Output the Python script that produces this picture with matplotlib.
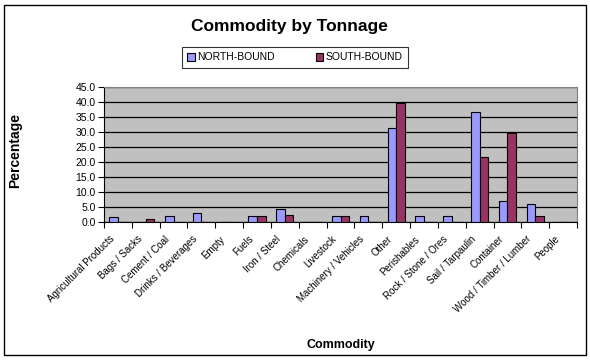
import numpy as np
import matplotlib
matplotlib.use("Agg")
import matplotlib.pyplot as plt
from matplotlib.patches import Rectangle
from matplotlib.transforms import ScaledTranslation

plt.rcParams["font.family"] = ["Liberation Sans", "DejaVu Sans"]

# ── Data ──────────────────────────────────────────────────────────────────────
commodities = [
    "Agricultural Products", "Bags / Sacks", "Cement / Coal", "Drinks / Beverages",
    "Empty", "Fuels", "Iron / Steel", "Chemicals", "Livestock",
    "Machinery / Vehicles", "Other", "Perishables", "Rock / Stone / Ores",
    "Sail / Tarpaulin", "Container", "Wood / Timber / Lumber", "People",
]
north_bound = [1.5, 0.0, 1.7, 2.8, 0.0, 1.7, 4.1, 0.0, 1.7,
               2.0, 31.3, 1.7, 1.7, 36.6, 7.0, 5.7, 0.0]
south_bound = [0.0, 1.0, 0.0, 0.0, 0.0, 1.7, 2.1, 0.0, 1.7,
               0.0, 39.8, 0.0, 0.0, 21.5, 29.7, 1.9, 0.0]
y_ticks = np.arange(0, 45.1, 5)

# ── Figure ────────────────────────────────────────────────────────────────────
fig = plt.figure(figsize=(5.9, 3.6), dpi=100)
ax = fig.add_axes([104 / 590, 1 - 221.5 / 360, 473 / 590, 134.5 / 360])
ax.set_facecolor("#C0C0C0")

n = len(commodities)
x = np.arange(n) + 0.5
w = 0.31
ax.bar(x - w / 2, north_bound, w, color="#9999FF", edgecolor="black",
       linewidth=0.8, label="NORTH-BOUND", zorder=3)
ax.bar(x + w / 2, south_bound, w, color="#993366", edgecolor="black",
       linewidth=0.8, label="SOUTH-BOUND", zorder=3)

ax.set_xlim(0, n)
ax.set_ylim(0, 45)
ax.set_yticks(y_ticks)
ax.set_yticklabels([f"{v:.1f}" for v in y_ticks], fontsize=7.5)
ax.yaxis.grid(True, color="black", linewidth=0.9, zorder=1)
ax.set_axisbelow(True)

# category boundaries get the tick marks, names sit under the centres
ax.set_xticks(np.arange(n + 1))
ax.set_xticklabels([])
ax.tick_params(axis="x", length=4, direction="out")
ax.tick_params(axis="y", length=4, direction="out", pad=2)

shift = ScaledTranslation(-9 / 100, -12.5 / 100, fig.dpi_scale_trans)
for xi, name in zip(x, commodities):
    ax.text(xi, 0, name, transform=ax.get_xaxis_transform() + shift,
            rotation=45, ha="right", va="top", rotation_mode="anchor",
            fontsize=7, clip_on=False)

for side in ("top", "right"):
    ax.spines[side].set_color("#808080")
    ax.spines[side].set_linewidth(0.8)
for side in ("left", "bottom"):
    ax.spines[side].set_color("black")

fig.text(15 / 590, 1 - 150 / 360, "Percentage", ha="center", va="center",
         rotation=90, fontsize=10, fontweight="bold")
fig.text(341 / 590, 1 - 345 / 360, "Commodity", ha="center", va="center",
         fontsize=9, fontweight="bold")
fig.text(289 / 590, 1 - 26 / 360, "Commodity by Tonnage", ha="center",
         va="center", fontsize=12.5, fontweight="bold")

leg = fig.legend(loc="center", bbox_to_anchor=(295 / 590, 1 - 57.5 / 360),
                 ncol=2, fontsize=7.5, frameon=True, fancybox=False,
                 edgecolor="black", handlelength=0.7, handleheight=0.7,
                 handletextpad=0.2, columnspacing=4.0, borderpad=0.55,
                 borderaxespad=0)
leg.get_frame().set_linewidth(0.8)

fig.patches.append(Rectangle((4 / 590, 5 / 360), 582 / 590, 350 / 360,
                             transform=fig.transFigure, fill=False,
                             edgecolor="black", linewidth=1.0))

fig.savefig("out.png", dpi=100)
